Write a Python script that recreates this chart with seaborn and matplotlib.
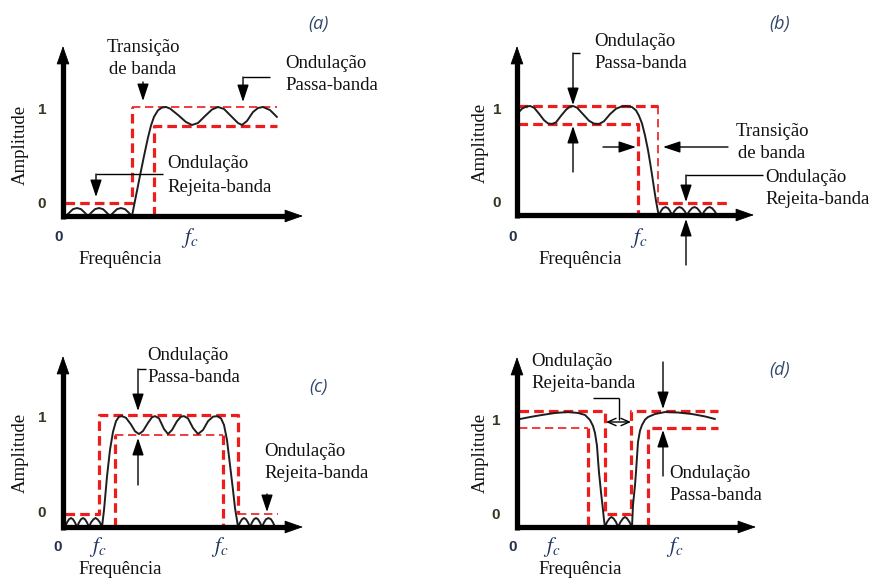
import matplotlib
matplotlib.use("Agg")
import matplotlib.pyplot as plt
import seaborn as sns

sns.set_style("white")
plt.rcParams["font.family"] = ["Liberation Serif", "DejaVu Serif"]
plt.rcParams["mathtext.fontset"] = "stix"

W, H = 876, 582

# ---------------- data (frequency in arbitrary units, amplitude) ----------------
HUMP_A = [0, 0.037, 0.063, 0.073, 0.063, 0.037, 0]
HUMP_C = [0, 0.040, 0.069, 0.080, 0.069, 0.040, 0]
HUMP_D = [0, 0.043, 0.074, 0.086, 0.074, 0.043, 0]

# (a) high-pass
a_curve_x = ([0.03, 0.07, 0.10, 0.14, 0.18, 0.21, 0.25,
              0.29, 0.32, 0.36, 0.40, 0.43, 0.47,
              0.51, 0.54, 0.58, 0.62, 0.65, 0.69]
             + [0.72, 0.77, 0.81, 0.85, 0.88, 0.91, 0.95, 0.99, 1.03, 1.07, 1.15, 1.23,
                1.29, 1.35, 1.42, 1.49, 1.55, 1.61, 1.69, 1.75, 1.79, 1.84, 1.90, 1.95,
                2.00, 2.07, 2.14])
a_curve_y = (HUMP_A + HUMP_A[1:] + HUMP_A[1:]
             + [0.14, 0.37, 0.55, 0.72, 0.83, 0.91, 0.97, 0.995, 1.0, 0.986, 0.927, 0.862,
                0.835, 0.853, 0.917, 0.977, 1.0, 0.982, 0.908, 0.853, 0.835, 0.872, 0.954,
                0.991, 1.0, 0.972, 0.908])
a_mask_stop_x = [0.02, 0.69, 0.69]
a_mask_stop_y = [0.12, 0.12, 1.0]
a_mask_top_x = [0.69, 2.14]
a_mask_top_y = [1.0, 1.0]
a_mask_pass_x = [0.91, 0.91, 2.14]
a_mask_pass_y = [0.0, 0.826, 0.826]

# (b) low-pass
b_curve_x = ([0.01, 0.05, 0.09, 0.13, 0.17, 0.22, 0.27, 0.31, 0.35, 0.39, 0.44, 0.49,
              0.53, 0.56, 0.60, 0.66, 0.72, 0.77, 0.82, 0.87, 0.93, 0.99, 1.05, 1.10,
              1.15, 1.19, 1.22, 1.25, 1.28, 1.31, 1.33, 1.35, 1.37, 1.39, 1.41]
             + [1.42, 1.44, 1.46, 1.485, 1.51, 1.53, 1.55,
                1.575, 1.60, 1.625, 1.65, 1.675, 1.70,
                1.725, 1.75, 1.775, 1.80, 1.825, 1.85,
                1.875, 1.90, 1.925, 1.95, 1.975, 2.00])
b_curve_y = ([0.936, 0.975, 0.995, 1.0, 0.985, 0.93, 0.87, 0.84, 0.835, 0.85, 0.91, 0.965,
              0.995, 1.0, 0.985, 0.925, 0.865, 0.838, 0.835, 0.86, 0.925, 0.975, 0.997, 1.0,
              0.99, 0.96, 0.91, 0.84, 0.73, 0.596, 0.486, 0.37, 0.248, 0.13, 0.03]
             + HUMP_A + HUMP_A[1:] + HUMP_A[1:] + HUMP_A[1:])
b_mask_top_x = [0.01, 1.41]
b_mask_top_y = [1.0, 1.0]
b_mask_edge_x = [1.41, 1.41]
b_mask_edge_y = [1.0, 0.11]
b_mask_stop_x = [1.41, 2.10]
b_mask_stop_y = [0.11, 0.11]
b_mask_pass_x = [0.01, 1.21, 1.21]
b_mask_pass_y = [0.835, 0.835, 0.0]

# (c) band-pass
c_curve_x = ([0.02, 0.04, 0.06, 0.08, 0.10, 0.12, 0.14,
              0.16, 0.18, 0.20, 0.22, 0.24, 0.26,
              0.28, 0.305, 0.325, 0.345, 0.37, 0.39]
             + [0.41, 0.44, 0.47, 0.50, 0.53, 0.56, 0.59, 0.63, 0.68, 0.72, 0.76, 0.80,
                0.85, 0.89, 0.92, 0.96, 1.01, 1.05, 1.09, 1.14, 1.18, 1.21, 1.25, 1.30,
                1.35, 1.40, 1.45, 1.50, 1.54, 1.58, 1.61, 1.64, 1.67, 1.70, 1.72, 1.74]
             + [1.75, 1.77, 1.79, 1.81, 1.83, 1.85, 1.87,
                1.89, 1.91, 1.93, 1.95, 1.97, 1.99,
                2.01, 2.03, 2.055, 2.08, 2.10, 2.12])
c_curve_y = (HUMP_C + HUMP_C[1:] + HUMP_C[1:]
             + [0.15, 0.45, 0.69, 0.85, 0.945, 0.985, 0.99, 0.975, 0.915, 0.855, 0.83, 0.857,
                0.93, 0.98, 0.99, 0.97, 0.875, 0.83, 0.866, 0.945, 0.985, 0.99, 0.97, 0.884,
                0.83, 0.866, 0.945, 0.985, 0.99, 0.97, 0.911, 0.777, 0.554, 0.33, 0.17, 0.06]
             + HUMP_C + HUMP_C[1:] + HUMP_C[1:])
c_mask_outer_x = [0.02, 0.36, 0.36, 1.75, 1.75]
c_mask_outer_y = [0.116, 0.116, 1.0, 1.0, 0.116]
c_mask_stop_r_x = [1.75, 2.15]
c_mask_stop_r_y = [0.116, 0.116]
c_mask_in_l_x = [0.52, 0.52]
c_mask_in_l_y = [0.0, 0.821]
c_mask_in_top_x = [0.52, 1.60]
c_mask_in_top_y = [0.821, 0.821]
c_mask_in_r_x = [1.60, 1.60]
c_mask_in_r_y = [0.821, 0.0]

# (d) band-stop
d_curve_x = ([0.03, 0.13, 0.23, 0.38, 0.51, 0.61, 0.68, 0.73, 0.76, 0.78, 0.80, 0.81,
              0.82, 0.84, 0.86, 0.87]
             + [0.88, 0.90, 0.925, 0.945, 0.965, 0.99, 1.01,
                1.035, 1.06, 1.08, 1.10, 1.125, 1.15]
             + [1.16, 1.18, 1.19, 1.21, 1.23, 1.25, 1.28, 1.31, 1.38, 1.48, 1.61, 1.75,
                1.88, 1.98])
d_curve_y = ([0.931, 0.948, 0.963, 0.983, 0.991, 0.983, 0.966, 0.922, 0.871, 0.81, 0.70,
              0.58, 0.47, 0.30, 0.147, 0.06]
             + HUMP_D + HUMP_D[1:]
             + [0.19, 0.36, 0.474, 0.733, 0.83, 0.879, 0.925, 0.948, 0.974, 0.991, 0.987,
                0.974, 0.953, 0.931])
d_mask_notch_x = [0.02, 0.88, 0.88, 1.14, 1.14, 2.01]
d_mask_notch_y = [1.0, 1.0, 0.112, 0.112, 1.0, 1.0]
d_mask_low_l_x = [0.02, 0.71]
d_mask_low_l_y = [0.853, 0.853]
d_mask_edge_l_x = [0.71, 0.71]
d_mask_edge_l_y = [0.853, 0.0]
d_mask_low_r_x = [1.31, 1.31, 2.01]
d_mask_low_r_y = [0.0, 0.853, 0.853]

# ---------------- layout ----------------
QW, QH = 438, 291
panels = [
    dict(quad=(0, 0), origin=(63, 216), S=109, curve=(a_curve_x, a_curve_y),
         masks=[(a_mask_stop_x, a_mask_stop_y, True), (a_mask_top_x, a_mask_top_y, False),
                (a_mask_pass_x, a_mask_pass_y, True)]),
    dict(quad=(438, 0), origin=(517, 215), S=109, curve=(b_curve_x, b_curve_y),
         masks=[(b_mask_top_x, b_mask_top_y, True), (b_mask_edge_x, b_mask_edge_y, False),
                (b_mask_stop_x, b_mask_stop_y, True), (b_mask_pass_x, b_mask_pass_y, True)]),
    dict(quad=(0, 291), origin=(63, 527), S=112, curve=(c_curve_x, c_curve_y),
         masks=[(c_mask_outer_x, c_mask_outer_y, True), (c_mask_stop_r_x, c_mask_stop_r_y, False),
                (c_mask_in_l_x, c_mask_in_l_y, True), (c_mask_in_top_x, c_mask_in_top_y, False),
                (c_mask_in_r_x, c_mask_in_r_y, True)]),
    dict(quad=(438, 291), origin=(517, 527), S=116, curve=(d_curve_x, d_curve_y),
         masks=[(d_mask_notch_x, d_mask_notch_y, True), (d_mask_low_l_x, d_mask_low_l_y, False),
                (d_mask_edge_l_x, d_mask_edge_l_y, True), (d_mask_low_r_x, d_mask_low_r_y, True)]),
]

RED = "#ee1c1c"
CURVE = "#1e1e1e"

fig = plt.figure(figsize=(W / 100, H / 100), dpi=100)
fig.patch.set_facecolor("white")

for p in panels:
    qx, qy = p["quad"]
    ox, oy = p["origin"]
    S = p["S"]
    ax = fig.add_axes([qx / W, 1 - (qy + QH) / H, QW / W, QH / H])
    for mx, my, thick in p["masks"]:
        sns.lineplot(x=mx, y=my, ax=ax, sort=False, estimator=None, color=RED,
                     lw=2.3 if thick else 1.2)
        ln = ax.lines[-1]
        ln.set_dashes((3.0, 1.6) if thick else (5.0, 2.8))
        ln.set_solid_capstyle("butt")
    cx, cy = p["curve"]
    sns.lineplot(x=cx, y=cy, ax=ax, sort=False, estimator=None, color=CURVE, lw=1.4)
    ax.set_xlim((qx - ox) / 100, (qx + QW - ox) / 100)
    ax.set_ylim((oy - (qy + QH)) / S, (oy - qy) / S)
    ax.set_axis_off()

# overlay in pixel coordinates for axes arrows and annotations
ov = fig.add_axes([0, 0, 1, 1])
ov.set_xlim(0, W)
ov.set_ylim(H, 0)
ov.set_axis_off()
ov.patch.set_alpha(0)


def axis_arrow(x0, y0, x1, y1):
    L = 17
    if x0 == x1:
        ov.plot([x0, x1], [y0, y1 + L], color="black", lw=3.8, solid_capstyle="butt")
        base = (x1, y1 + L)
    else:
        ov.plot([x0, x1 - L], [y0, y1], color="black", lw=3.8, solid_capstyle="butt")
        base = (x1 - L, y1)
    ov.annotate("", xy=(x1, y1), xytext=base,
                arrowprops=dict(arrowstyle="-|>,head_length=1.2,head_width=0.42",
                                mutation_scale=10, lw=0.6, color="black",
                                shrinkA=0, shrinkB=0))


def arrow(x0, y0, x1, y1, style="-|>", hl=0.75, hw=0.25, ms=14):
    ov.annotate("", xy=(x1, y1), xytext=(x0, y0),
                arrowprops=dict(arrowstyle=f"{style},head_length={hl},head_width={hw}",
                                mutation_scale=ms, lw=1.0, color="black",
                                shrinkA=0, shrinkB=0))


def seg(xs, ys):
    ov.plot(xs, ys, color="black", lw=1.0, solid_capstyle="butt")


def txt(x, y, s, ha="left", **kw):
    kw.setdefault("fontsize", 13.5)
    ov.text(x, y, s, ha=ha, va="center", color="#111111", **kw)


# axes arrows
axis_arrow(63, 219, 63, 46)
axis_arrow(61, 216, 303, 216)
axis_arrow(517, 218, 517, 46)
axis_arrow(515, 215, 754, 215)
axis_arrow(63, 530, 63, 356)
axis_arrow(61, 527, 303, 527)
axis_arrow(517, 530, 517, 357)
axis_arrow(515, 527, 756, 527)

TICK = "#3a3522"
ZERO = "#26324c"
FC = "#1f3360"
PLAB = "#34486a"


def common(ax_x, ax_yc, freq_xc, freq_y, zero_xy, one_xy, zero2_xy, fcs, plab, plab_xy):
    ov.text(ax_x, ax_yc, "Amplitude", rotation=90, ha="center", va="center",
            fontsize=13.5, color="#111111")
    ov.text(freq_xc, freq_y, "Frequência", ha="center", va="center", fontsize=13.5,
            color="#111111")
    ov.text(*zero_xy, "0", ha="center", va="center", fontsize=11, weight="bold",
            family="Liberation Sans", color=ZERO)
    ov.text(*one_xy, "1", ha="center", va="center", fontsize=11, weight="bold",
            family="Liberation Sans", color=TICK)
    ov.text(*zero2_xy, "0", ha="center", va="center", fontsize=11, weight="bold",
            family="Liberation Sans", color=TICK)
    for fx, fy in fcs:
        ov.text(fx, fy, r"$f_c$", ha="center", va="center", fontsize=15.5, color=FC)
    ov.text(*plab_xy, plab, ha="center", va="center", fontsize=13, style="italic",
            family="Open Sans", color=PLAB)


common(20, 145, 120, 260, (59, 237), (42, 110), (42, 204), [(190, 238)], "(a)", (318, 24))
common(480, 143, 580, 260, (513, 237), (497, 110), (497, 203), [(639, 238)], "(b)", (780, 24))
common(20, 453, 120, 570, (58, 547), (42, 418), (42, 513), [(98, 547), (220, 547)], "(c)", (318, 387))
common(480, 453, 580, 570, (513, 547), (496, 421), (496, 515), [(552, 547), (675, 547)], "(d)", (780, 370))

# (a) annotations
txt(143, 47, "Transição", ha="center")
txt(143, 69, "de banda", ha="center")
arrow(143, 82, 143, 101)
txt(285, 63, "Ondulação")
txt(285, 85, "Passa-banda")
seg([270, 243], [77, 77])
arrow(243, 77, 243, 102)
txt(167, 163, "Ondulação")
txt(167, 187, "Rejeita-banda")
seg([163, 96], [174, 174])
arrow(96, 174, 96, 197)

# (b) annotations
txt(594, 42, "Ondulação")
txt(594, 63, "Passa-banda")
seg([580, 573], [53, 53])
arrow(573, 53, 573, 105)
arrow(573, 172, 573, 126)
arrow(603, 147, 636, 147)
arrow(728, 147, 663, 147)
txt(772, 132, "Transição", ha="center")
txt(772, 154, "de banda", ha="center")
txt(765, 177, "Ondulação")
txt(765, 200, "Rejeita-banda")
seg([763, 686], [175, 175])
arrow(686, 175, 686, 202)
arrow(686, 265, 686, 219)

# (c) annotations
txt(147, 356, "Ondulação")
txt(147, 378, "Passa-banda")
seg([146, 138], [369, 369])
arrow(138, 369, 138, 411)
arrow(138, 485, 138, 438)
txt(264, 452, "Ondulação")
txt(264, 474, "Rejeita-banda")
arrow(267, 494, 267, 512)

# (d) annotations
txt(531, 362, "Ondulação")
txt(531, 384, "Rejeita-banda")
seg([593, 619], [398, 398])
seg([619, 619], [398, 420])
arrow(606, 422, 631, 422, style="<->", hl=0.5, hw=0.22, ms=12)
arrow(663, 362, 663, 409)
arrow(663, 476, 663, 430)
txt(669, 473, "Ondulação")
txt(669, 496, "Passa-banda")

fig.savefig("out.png", dpi=100, facecolor="white")
